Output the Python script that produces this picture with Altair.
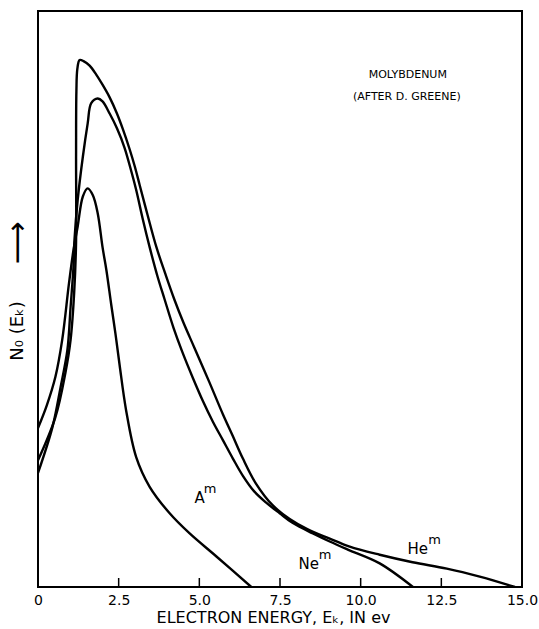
import altair as alt
import pandas as pd

# ---- data (x: electron energy in eV, y: arbitrary units) ----
A_E = [0.0, 0.27, 0.54, 0.75, 0.96, 1.10, 1.23, 1.39, 1.54, 1.70, 1.85, 2.00, 2.12,
       2.27, 2.40, 2.53, 2.73, 3.04, 3.46, 4.08, 4.70, 5.53, 6.61]
A_N = [27.6, 31.5, 36.5, 42.9, 52.7, 58.5, 62.6, 67.8, 69.2, 68.0, 64.9, 59.0, 55.0,
       49.0, 44.0, 38.5, 30.7, 22.6, 17.4, 12.8, 9.3, 5.3, 0.0]

NE_E = [0.0, 0.45, 0.70, 0.91, 1.01, 1.10, 1.13, 1.23, 1.39, 1.54, 1.65, 1.85, 2.00,
        2.22, 2.45, 2.68, 2.90, 3.04, 3.25, 3.46, 3.70, 3.92, 4.20, 4.46, 4.80, 5.11,
        5.42, 5.73, 6.04, 6.35, 6.70, 7.08, 7.49, 7.90, 8.52, 9.04, 9.60, 10.59, 11.62]
NE_N = [19.8, 27.8, 34.7, 41.1, 48.6, 55.6, 60.2, 67.2, 74.7, 80.5, 84.0, 84.8, 84.3,
        82.2, 79.6, 76.3, 72.0, 69.0, 63.8, 59.0, 54.0, 50.0, 45.0, 41.0, 36.3, 32.3,
        28.7, 25.5, 22.3, 19.3, 16.6, 14.6, 12.8, 11.1, 9.3, 7.9, 6.5, 4.1, 0.0]

HE_E = [0.0, 0.54, 0.85, 1.01, 1.12, 1.18, 1.18, 1.19, 1.22, 1.29, 1.41, 1.60, 1.80,
        2.00, 2.22, 2.44, 2.63, 2.84, 3.00, 3.15, 3.40, 3.67, 3.95, 4.22, 4.50, 4.85,
        5.30, 5.73, 6.03, 6.35, 6.75, 7.27, 7.80, 8.33, 9.04, 9.66, 10.59, 11.61,
        12.67, 13.69, 14.78]
HE_N = [22.0, 29.5, 37.2, 42.9, 51.0, 60.0, 75.0, 86.0, 90.0, 91.5, 91.3, 90.5, 89.0,
        87.2, 85.0, 82.3, 79.5, 76.0, 73.0, 69.8, 64.5, 59.0, 54.3, 50.0, 46.0, 41.5,
        35.7, 30.0, 26.3, 22.3, 18.0, 14.2, 11.8, 10.1, 8.4, 7.0, 5.6, 4.3,
        3.2, 1.8, 0.0]

TICKS = [0, 2.5, 5.0, 7.5, 10.0, 12.5, 15.0]
INNER_TICKS = [2.5, 5.0, 7.5, 10.0, 12.5]

# curve labels: base text and superscript
LAB_BASE = ["A", "Ne", "He"]
LAB_BASE_E = [5.01, 8.39, 11.77]
LAB_BASE_N = [15.4, 4.0, 6.6]
LAB_SUP = ["m", "m", "m"]
LAB_SUP_E = [5.33, 8.90, 12.29]
LAB_SUP_N = [17.0, 5.5, 8.1]

NOTE_LINES = ["MOLYBDENUM", "(AFTER D. GREENE)"]
NOTE_E = [11.46, 11.43]
NOTE_N = [88.9, 85.0]

Y_TITLE = "N₀ (Eₖ)"
X_TITLE = "ELECTRON ENERGY, Eₖ, IN ev"

FONT = "DejaVu Sans"

rows = []
for gas, xs_, ys_ in [("Am", A_E, A_N), ("Nem", NE_E, NE_N), ("Hem", HE_E, HE_N)]:
    for i, (x, y) in enumerate(zip(xs_, ys_)):
        rows.append({"gas": gas, "i": i, "E": x, "N": y})
curves = pd.DataFrame(rows)

xs = alt.Scale(domain=[0, 15], nice=False, zero=False)
ys = alt.Scale(domain=[0, 100], nice=False, zero=False)

lines = alt.Chart(curves).mark_line(
    color="black", strokeWidth=2.4, interpolate="catmull-rom", clip=True
).encode(
    x=alt.X("E:Q", scale=xs, axis=alt.Axis(
        values=TICKS,
        labelExpr="datum.value == 0 ? '0' : format(datum.value, '.1f')",
        tickSize=0, domain=False, grid=False, labelFlush=False,
        title=X_TITLE,
        labelFont=FONT, titleFont=FONT, labelFontSize=14, titleFontSize=16,
        labelColor="black", titleColor="black", titleFontWeight="normal",
        labelPadding=6, titlePadding=2, titleX=235, titleAlign="center")),
    y=alt.Y("N:Q", scale=ys, axis=alt.Axis(
        labels=False, ticks=False, domain=False, grid=False, title="")),
    detail="gas:N",
    order="i:Q",
)

tick_df = pd.DataFrame({"E": INNER_TICKS})
ticks = alt.Chart(tick_df).mark_rule(color="black", strokeWidth=1.5).encode(
    x=alt.X("E:Q", scale=xs),
    y=alt.value(576),
    y2=alt.value(567),
)

base_df = pd.DataFrame({"t": LAB_BASE, "E": LAB_BASE_E, "N": LAB_BASE_N})
base_txt = alt.Chart(base_df).mark_text(
    font=FONT, fontSize=15, color="black", align="center", baseline="middle"
).encode(x=alt.X("E:Q", scale=xs), y=alt.Y("N:Q", scale=ys), text="t:N")

sup_df = pd.DataFrame({"t": LAB_SUP, "E": LAB_SUP_E, "N": LAB_SUP_N})
sup_txt = alt.Chart(sup_df).mark_text(
    font=FONT, fontSize=13, color="black", align="center", baseline="middle"
).encode(x=alt.X("E:Q", scale=xs), y=alt.Y("N:Q", scale=ys), text="t:N")

note_df = pd.DataFrame({"t": NOTE_LINES, "E": NOTE_E, "N": NOTE_N})
note_txt = alt.Chart(note_df).mark_text(
    font=FONT, fontSize=11, color="black", align="center", baseline="middle"
).encode(x=alt.X("E:Q", scale=xs), y=alt.Y("N:Q", scale=ys), text="t:N")

ytitle_df = pd.DataFrame({"t": [Y_TITLE]})
ytitle = alt.Chart(ytitle_df).mark_text(
    font=FONT, fontSize=18, color="black", angle=270, align="center", baseline="middle"
).encode(x=alt.value(-20), y=alt.value(320), text="t:N")

arrow_df = pd.DataFrame({"t": ["⟶"]})
arrow = alt.Chart(arrow_df).mark_text(
    font=FONT, fontSize=30, color="black", angle=270, align="center", baseline="middle"
).encode(x=alt.value(-20), y=alt.value(232), text="t:N")

chart = alt.layer(lines, ticks, base_txt, sup_txt, note_txt, ytitle, arrow).properties(
    width=484, height=576,
    autosize=alt.AutoSizeParams(type="none"),
    padding={"left": 38, "top": 11, "right": 17, "bottom": 42},
    background="white",
).configure_view(stroke="black", strokeWidth=2)

chart.save("out.html", embed_options={"renderer": "svg", "actions": False})
